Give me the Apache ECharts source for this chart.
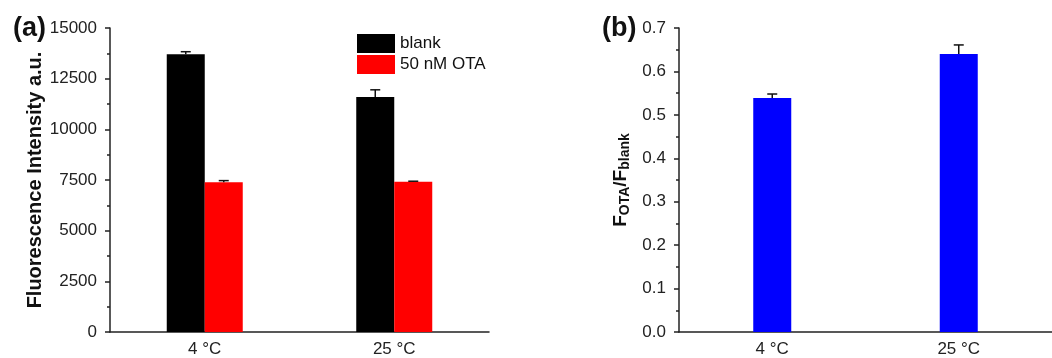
<!DOCTYPE html>
<html>
<head>
<meta charset="utf-8">
<script src="https://cdn.jsdelivr.net/npm/echarts@6/dist/echarts.min.js"></script>
<style>
  html, body { margin: 0; padding: 0; background: #fff; }
  #chart { width: 1052px; height: 358px; }
</style>
</head>
<body>
<div id="chart"></div>
<script>
// data
const categories = ['4 °C', '25 °C']
const blankValues = [13700, 11600]
const blankErrors = [130, 350]
const otaValues = [7390, 7410]
const otaErrors = [80, 30]
const ratioValues = [0.539, 0.640]
const ratioErrors = [0.009, 0.021]

const FONT = 'Liberation Sans, Arial, sans-serif'
const BAR_W = 38

// error bar (upper only, with cap); offset shifts it onto the grouped bar
function errorBar(offset) {
  return function (params, api) {
    const x = api.value(0)
    const v = api.value(1)
    const e = api.value(2)
    const base = api.coord([x, v])
    const top = api.coord([x, v + e])
    const cx = base[0] + offset
    const style = { stroke: '#111', lineWidth: 1.5 }
    return {
      type: 'group',
      children: [
        { type: 'line', shape: { x1: cx, y1: base[1], x2: cx, y2: top[1] }, style },
        { type: 'line', shape: { x1: cx - 5, y1: top[1], x2: cx + 5, y2: top[1] }, style }
      ]
    }
  }
}

function errData(vals, errs) {
  return vals.map((v, i) => [i, v, errs[i]])
}

const axisLine = { show: true, lineStyle: { color: '#222', width: 1.5 } }
const labelStyle = { color: '#222', fontSize: 17, fontFamily: FONT }
const tickStyle = { show: true, length: 5, lineStyle: { color: '#222', width: 1.5 } }
const minorStyle = { show: true, splitNumber: 2, length: 3, lineStyle: { color: '#222', width: 1.5 } }

const chart = echarts.init(document.getElementById('chart'))
chart.setOption({
  animation: false,
  textStyle: { fontFamily: FONT },
  title: [
    { text: '(a)', left: 8, top: 10, textStyle: { fontSize: 27, fontWeight: 'bold', color: '#111', fontFamily: FONT } },
    { text: '(b)', left: 597, top: 10, textStyle: { fontSize: 27, fontWeight: 'bold', color: '#111', fontFamily: FONT } }
  ],
  legend: {
    data: ['blank', '50 nM OTA'],
    orient: 'vertical',
    left: 352,
    top: 29,
    itemWidth: 38,
    itemHeight: 19,
    itemGap: 2,
    icon: 'rect',
    textStyle: { fontSize: 17, color: '#111', fontFamily: FONT }
  },
  grid: [
    { left: 110, top: 28, width: 379, height: 305 },
    { left: 679, top: 28, width: 379, height: 305 }
  ],
  xAxis: [
    {
      gridIndex: 0, type: 'category', data: categories,
      axisLine, axisTick: { show: false },
      axisLabel: { ...labelStyle, margin: 9 }
    },
    {
      gridIndex: 1, type: 'category', data: categories,
      axisLine, axisTick: { show: false },
      axisLabel: { ...labelStyle, margin: 9 }
    }
  ],
  yAxis: [
    {
      gridIndex: 0, type: 'value', min: 0, max: 15000, interval: 2500,
      axisLine, axisTick: tickStyle, minorTick: minorStyle,
      splitLine: { show: false },
      axisLabel: { ...labelStyle, margin: 13, formatter: v => String(v) },
      name: 'Fluorescence Intensity a.u.',
      nameLocation: 'middle',
      nameGap: 60,
      nameTextStyle: { fontSize: 20, fontWeight: 'bold', color: '#111', fontFamily: FONT }
    },
    {
      gridIndex: 1, type: 'value', min: 0, max: 0.7, interval: 0.1,
      axisLine, axisTick: tickStyle, minorTick: minorStyle,
      splitLine: { show: false },
      axisLabel: { ...labelStyle, margin: 13, formatter: v => v.toFixed(1) },
      name: '{b|F}{s|OTA}{b|/F}{s|blank}',
      nameLocation: 'middle',
      nameGap: 47,
      nameTextStyle: {
        color: '#111',
        rich: {
          b: { fontSize: 19, fontWeight: 'bold', color: '#111', fontFamily: FONT },
          s: { fontSize: 14, fontWeight: 'bold', color: '#111', fontFamily: FONT, padding: [9, 0, 0, 0] }
        }
      }
    }
  ],
  series: [
    {
      name: 'blank', type: 'bar', xAxisIndex: 0, yAxisIndex: 0,
      data: blankValues, barWidth: BAR_W, barGap: '0%',
      itemStyle: { color: '#000' }
    },
    {
      name: '50 nM OTA', type: 'bar', xAxisIndex: 0, yAxisIndex: 0,
      data: otaValues, barWidth: BAR_W, barGap: '0%',
      itemStyle: { color: '#ff0000' }
    },
    {
      type: 'custom', xAxisIndex: 0, yAxisIndex: 0, z: 5,
      renderItem: errorBar(-BAR_W / 2),
      data: errData(blankValues, blankErrors)
    },
    {
      type: 'custom', xAxisIndex: 0, yAxisIndex: 0, z: 5,
      renderItem: errorBar(BAR_W / 2),
      data: errData(otaValues, otaErrors)
    },
    {
      name: 'ratio', type: 'bar', xAxisIndex: 1, yAxisIndex: 1,
      data: ratioValues, barWidth: BAR_W,
      itemStyle: { color: '#0000ff' }
    },
    {
      type: 'custom', xAxisIndex: 1, yAxisIndex: 1, z: 5,
      renderItem: errorBar(0),
      data: errData(ratioValues, ratioErrors)
    }
  ]
})
</script>
</body>
</html>
